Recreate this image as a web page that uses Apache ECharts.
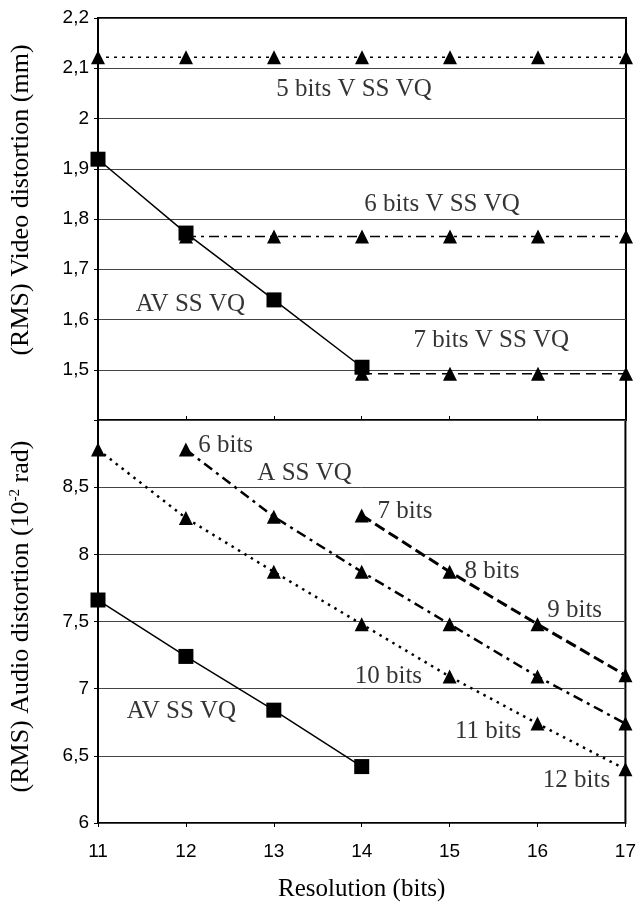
<!DOCTYPE html>
<html><head><meta charset="utf-8">
<script src="https://cdn.jsdelivr.net/npm/echarts@6/dist/echarts.min.js"></script>
<style>html,body{margin:0;padding:0;background:#fff}#c{width:639px;height:903px}</style>
</head><body><div id="c"></div>
<script>
var resolution = [11, 12, 13, 14, 15, 16, 17];
// Top panel (video distortion, mm)
var video5bits = [[11,2.122],[12,2.122],[13,2.122],[14,2.122],[15,2.122],[16,2.122],[17,2.122]];
var videoAV = [[11,1.919],[12,1.772],[13,1.639],[14,1.505]];
var video6bits = [[12,1.765],[13,1.765],[14,1.765],[15,1.765],[16,1.765],[17,1.765]];
var video7bits = [[14,1.492],[15,1.492],[16,1.492],[17,1.492]];
// Bottom panel (audio distortion, 1e-2 rad)
var audioAV = [[11,7.66],[12,7.24],[13,6.84],[14,6.42]];
var audioChainHigh = [[14,8.29],[15,7.87],[16,7.48],[17,7.10]];
var audioChainMid = [[12,8.78],[13,8.28],[14,7.87],[15,7.48],[16,7.09],[17,6.74]];
var audioChainLow = [[11,8.78],[12,8.27],[13,7.87],[14,7.48],[15,7.09],[16,6.74],[17,6.40]];
// Annotations [x, y, text, align]
var topNotes = [[13.91,2.057,'5 bits V SS VQ','center'],[14.91,1.828,'6 bits V SS VQ','center'],[12.05,1.629,'AV SS VQ','center'],[15.47,1.559,'7 bits V SS VQ','center']];
var bottomNotes = [[12.14,8.81,'6 bits','left'],[13.35,8.60,'A SS VQ','center'],[14.18,8.32,'7 bits','left'],[15.17,7.87,'8 bits','left'],[16.11,7.58,'9 bits','left'],[13.92,7.09,'10 bits','left'],[15.06,6.68,'11 bits','left'],[16.06,6.32,'12 bits','left'],[11.95,6.83,'AV SS VQ','center']];

var serif = '"Liberation Serif","Times New Roman",serif';
var sans = '"Liberation Sans",Arial,sans-serif';
function comma(v){ return String(Math.round(v*10)/10).replace('.', ','); }

function lineSeries(data, xi, type, width, sym, symSize, z){
  return {type:'line', xAxisIndex:xi, yAxisIndex:xi, data:data, symbol:sym, symbolSize:symSize,
    showSymbol:true, lineStyle:{color:'#000', width:width, type:type}, itemStyle:{color:'#000'},
    z:z||2, animation:false, silent:true};
}
function noteSeries(notes, xi){
  return {type:'scatter', xAxisIndex:xi, yAxisIndex:xi, symbolSize:0, z:5, animation:false, silent:true,
    data: notes.map(function(n){ return {value:[n[0],n[1]], label:{align:n[3]}, name:n[2]}; }),
    label:{show:true, position:'inside', formatter:function(p){return p.name;}, color:'#000',
      fontFamily:serif, fontSize:25, verticalAlign:'middle'}};
}

var chart = echarts.init(document.getElementById('c'), null, {renderer:'canvas'});
chart.setOption({
  backgroundColor:'#fff',
  grid:[
    {left:98, top:18, width:528, height:402, show:true, borderColor:'#000', borderWidth:2, backgroundColor:'transparent'},
    {left:98, top:420, width:528, height:403, show:true, borderColor:'#000', borderWidth:2, backgroundColor:'transparent'}
  ],
  xAxis:[
    {gridIndex:0, type:'value', min:11, max:17, interval:1, axisLabel:{show:false}, axisTick:{show:false}, axisLine:{show:false}, splitLine:{show:false}},
    {gridIndex:1, type:'value', min:11, max:17, interval:1,
      axisLabel:{show:true, color:'#000', fontFamily:sans, fontSize:19, margin:19},
      axisTick:{show:true, length:4, lineStyle:{color:'#000'}}, axisLine:{show:false}, splitLine:{show:false},
      name:'Resolution (bits)', nameLocation:'middle', nameGap:54, nameTextStyle:{color:'#000', fontFamily:serif, fontSize:25}},
    {gridIndex:1, type:'value', position:'top', min:11, max:17, interval:1, axisLabel:{show:false},
      axisTick:{show:true, length:4, lineStyle:{color:'#000'}}, axisLine:{show:false}, splitLine:{show:false}}
  ],
  yAxis:[
    {gridIndex:0, type:'value', min:1.4, max:2.2, interval:0.1,
      axisLabel:{color:'#000', fontFamily:sans, fontSize:19, margin:9, formatter:function(v){ return Math.abs(v-1.4)<1e-6 ? '' : comma(v);}},
      axisTick:{show:true, length:4, lineStyle:{color:'#000'}}, axisLine:{show:true, lineStyle:{color:'#000', width:2}},
      splitLine:{show:true, lineStyle:{color:'#444', width:1}},
      name:'(RMS) Video distortion (mm)', nameLocation:'middle', nameGap:64, nameRotate:90,
      nameTextStyle:{color:'#000', fontFamily:serif, fontSize:26, padding:[0,0,0,38]}},
    {gridIndex:1, type:'value', min:6, max:9, interval:0.5,
      axisLabel:{color:'#000', fontFamily:sans, fontSize:19, margin:9, formatter:function(v){ return Math.abs(v-9)<1e-6 ? '' : comma(v);}},
      axisTick:{show:true, length:4, lineStyle:{color:'#000'}}, axisLine:{show:true, lineStyle:{color:'#000', width:2}},
      splitLine:{show:true, lineStyle:{color:'#444', width:1}},
      name:'{a|(RMS) Audio distortion (10}{s|-2}{a| rad)}', nameLocation:'middle', nameGap:64, nameRotate:90,
      nameTextStyle:{color:'#000', fontFamily:serif, fontSize:26, padding:[0,0,0,10],
        rich:{a:{fontFamily:serif, fontSize:26, color:'#000'}, s:{fontFamily:serif, fontSize:15, color:'#000', verticalAlign:'top', padding:[0,0,10,0]}}}}
  ],
  series:[
    lineSeries(video5bits, 0, [3,5], 1.5, 'triangle', 14),
    lineSeries(video6bits, 0, [10,5,3,5], 1.5, 'triangle', 14),
    lineSeries(video7bits, 0, [10,6], 1.5, 'triangle', 14),
    lineSeries(videoAV, 0, 'solid', 1.5, 'rect', 15, 4),
    noteSeries(topNotes, 0),
    {type:'line', xAxisIndex:1, yAxisIndex:1, data:audioAV, symbol:'rect', symbolSize:15, lineStyle:{color:'#000', width:1.5}, itemStyle:{color:'#000'}, animation:false, silent:true, z:4},
    {type:'line', xAxisIndex:2, yAxisIndex:1, data:[], silent:true},
    lineSeries(audioChainHigh, 1, [11,5], 3, 'triangle', 14),
    lineSeries(audioChainMid, 1, [10,5,3,5], 2.5, 'triangle', 14),
    lineSeries(audioChainLow, 1, [2.5,5], 2.5, 'triangle', 14),
    noteSeries(bottomNotes, 1)
  ]
});
</script></body></html>
